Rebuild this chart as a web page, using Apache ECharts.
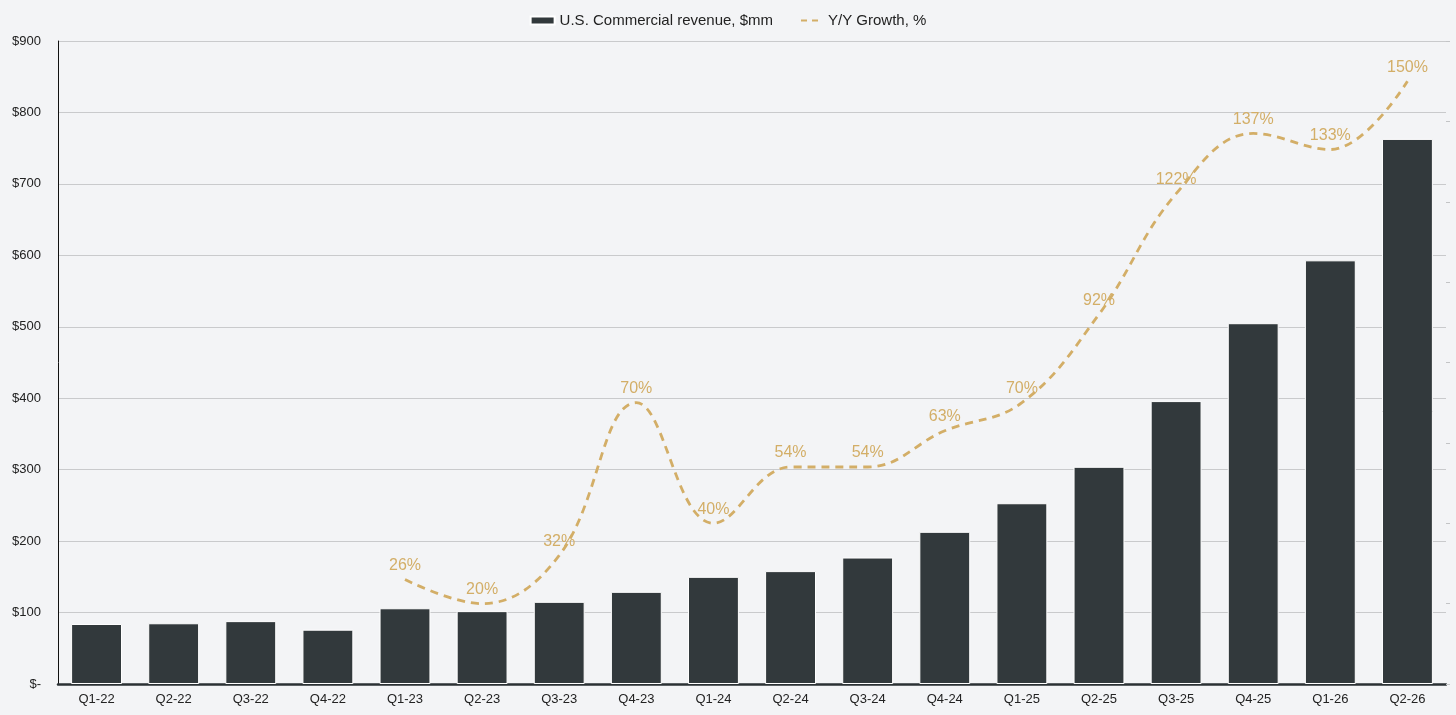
<!DOCTYPE html>
<html>
<head>
<meta charset="utf-8">
<script src="https://cdn.jsdelivr.net/npm/echarts@6/dist/echarts.min.js"></script>
<style>
  html, body { margin: 0; padding: 0; background: #f3f4f6; }
  #chart { width: 1456px; height: 715px; }
</style>
</head>
<body>
<div id="chart"></div>
<script>
// quarters on the x axis
const quarters = ['Q1-22', 'Q2-22', 'Q3-22', 'Q4-22', 'Q1-23', 'Q2-23', 'Q3-23', 'Q4-23', 'Q1-24',
  'Q2-24', 'Q3-24', 'Q4-24', 'Q1-25', 'Q2-25', 'Q3-25', 'Q4-25', 'Q1-26', 'Q2-26'];

// U.S. Commercial revenue, $mm
const revenue = [84, 85, 88, 76, 106, 102, 115, 129, 150, 158, 177, 213, 253, 304, 396, 505, 593, 763];

// Y/Y growth, % (no value for 2022)
const growth = [null, null, null, null, 26, 20, 32, 70, 40, 54, 54, 63, 70, 92, 122, 137, 133, 150];

const barName = 'U.S. Commercial revenue, $mm';
const lineName = 'Y/Y Growth, %';
const gold = '#d3ae67';

// two dashes for the legend, with tiny corner marks so the box keeps its height
const dashIcon = 'path://M0,0h0.05v0.05h-0.05z M2,3h6v2h-6z M13,3h6v2h-6z M23.95,7.95h0.05v0.05h-0.05z';

let myChart = echarts.init(document.getElementById('chart'));

let option = {
  backgroundColor: '#f3f4f6',
  textStyle: { fontFamily: 'Liberation Sans, Arial, sans-serif' },
  legend: {
    top: 8,
    left: 'center',
    itemGap: 26,
    itemWidth: 24,
    itemHeight: 8,
    textStyle: { fontSize: 15, color: '#222' },
    data: [
      { name: barName, icon: 'rect' },
      { name: lineName, icon: dashIcon },
    ],
  },
  grid: { left: 58, right: 10, top: 41, bottom: 31 },
  xAxis: {
    type: 'category',
    data: quarters,
    axisLine: { lineStyle: { color: '#2b3134', width: 2.5 } },
    axisTick: { show: false },
    axisLabel: { color: '#222', fontSize: 13, margin: 9 },
  },
  yAxis: [
    {
      type: 'value',
      min: 0,
      max: 900,
      interval: 100,
      axisLine: { show: true, lineStyle: { color: '#111', width: 1 } },
      axisTick: { show: false },
      axisLabel: {
        color: '#222',
        fontSize: 13,
        margin: 17,
        formatter: v => v === 0 ? '$-' : '$' + v,
      },
      splitLine: { lineStyle: { color: '#c9cacc', width: 1 } },
    },
    {
      type: 'value',
      min: 0,
      max: 160,
      interval: 20,
      position: 'right',
      axisLine: { show: false },
      axisTick: { show: true, length: 4, lineStyle: { color: '#c3c4c6' } },
      axisLabel: { show: false },
      splitLine: { show: false },
    },
  ],
  series: [
    {
      name: barName,
      type: 'bar',
      data: revenue,
      barWidth: '66%',
      itemStyle: { color: '#32393c', borderColor: '#ffffff', borderWidth: 1 },
      z: 2,
    },
    {
      name: lineName,
      type: 'line',
      yAxisIndex: 1,
      data: growth,
      smooth: 0.4,
      symbol: 'circle',
      symbolSize: 0.1,
      showSymbol: true,
      connectNulls: false,
      lineStyle: { color: gold, width: 2.8, type: [8, 6] },
      itemStyle: { color: gold },
      label: {
        show: true,
        position: 'top',
        distance: 6,
        color: gold,
        fontSize: 16,
        formatter: p => p.value + '%',
      },
      z: 3,
    },
  ],
};

myChart.setOption(option);
</script>
</body>
</html>
